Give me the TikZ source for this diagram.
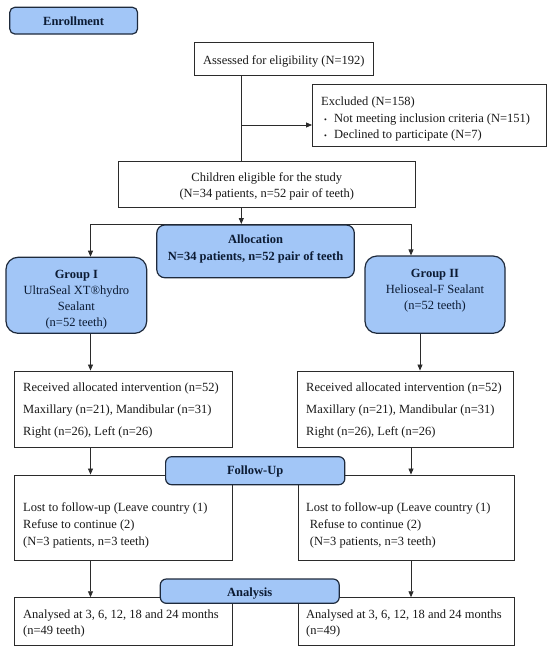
\documentclass[tikz,border=0pt]{standalone}
\usepackage{fontspec}
\setmainfont{Liberation Serif}
\usetikzlibrary{arrows.meta,backgrounds}
\definecolor{bfill}{HTML}{A2C6F7}
\definecolor{bline}{HTML}{1E2A3C}
\definecolor{btext}{HTML}{0C1B33}
\definecolor{gline}{HTML}{2B2B2B}
\begin{document}
\begin{tikzpicture}[x=1pt,y=-1pt,
  font=\fontsize{12.5}{15}\selectfont,
  wbox/.style={draw=gline, line width=0.9pt, fill=white, inner sep=0pt},
  bbox/.style={draw=bline, line width=1.2pt, fill=bfill, inner sep=0pt, rounded corners=#1},
  bbox/.default=6pt,
  txt/.style={inner sep=0pt, anchor=base west, text=black!90},
  ctxt/.style={inner sep=0pt, anchor=base, text=black!90},
  btxt/.style={inner sep=0pt, anchor=base, text=btext, font=\fontsize{12.5}{15}\selectfont\bfseries},
  bul/.style={inner sep=0pt, anchor=base west, text=black!90, font=\fontsize{8}{8}\selectfont},
  arr/.style={-{Triangle[length=6pt,width=5pt]}, line width=0.8pt, draw=gline},
  conn/.style={line width=0.8pt, draw=gline}]
\useasboundingbox (0,0) rectangle (550,651);

% coordinates for connector columns
\coordinate (vx) at (241.3,0);
\coordinate (lx) at (90.5,0);
\coordinate (rx) at (411,0);
\coordinate (rx2) at (420,0);
\coordinate (ex) at (241.3,125);
\coordinate (hy) at (0,224);

% white boxes
\node[wbox, minimum width=179.6pt, minimum height=33.4pt] (assessed) at (283.8,59) {};
\node[wbox, minimum width=233.5pt, minimum height=62pt] (excluded) at (429.25,115.7) {};
\node[wbox, minimum width=296.5pt, minimum height=45.8pt] (children) at (266.75,184.4) {};
\node[wbox, minimum width=217.5pt, minimum height=76.3pt] (recvL) at (123.45,409.15) {};
\node[wbox, minimum width=216.3pt, minimum height=76.3pt] (recvR) at (405.65,409.15) {};
\node[wbox, minimum width=217.5pt, minimum height=85pt] (lostL) at (123.45,517.5) {};
\node[wbox, minimum width=216.5pt, minimum height=85pt] (lostR) at (406.25,517.5) {};
\node[wbox, minimum width=217.5pt, minimum height=47.3pt] (anaL) at (123.45,621.35) {};
\node[wbox, minimum width=216.5pt, minimum height=47.3pt] (anaR) at (406.25,621.35) {};

% blue boxes
\node[bbox=5pt, minimum width=127.7pt, minimum height=26.7pt] (enroll) at (73.65,20.65) {};
\node[bbox=8pt, minimum width=197.5pt, minimum height=52.7pt] (alloc) at (255.55,251.35) {};
\node[bbox=12pt, minimum width=140.7pt, minimum height=76pt] (group1) at (76.35,295.3) {};
\node[bbox=12pt, minimum width=140pt, minimum height=77.3pt] (group2) at (435,294.65) {};
\node[bbox=6pt, minimum width=179.2pt, minimum height=28pt] (follow) at (255.2,470.7) {};
\node[bbox=6pt, minimum width=178.9pt, minimum height=24.3pt] (analysis) at (249.75,591.15) {};

% texts
\node[btxt] (tEnroll) at (73.65,25) {Enrollment};
\node[ctxt] (tAssessed) at (283.8,64) {Assessed for eligibility (N=192)};
\node[txt] (tEx1) at (321,105.7) {Excluded (N=158)};
\node[bul] (bu1) at (324,122) {•};
\node[txt] (tEx2) at (334,122.5) {Not meeting inclusion criteria (N=151)};
\node[bul] (bu2) at (324,138) {•};
\node[txt] (tEx3) at (334,138.5) {Declined to participate (N=7)};
\node[ctxt] (tCh1) at (266.75,181) {Children eligible for the study};
\node[ctxt] (tCh2) at (266.75,197.5) {(N=34 patients, n=52 pair of teeth)};
\node[btxt] (tAl1) at (255.55,243.2) {Allocation};
\node[btxt] (tAl2) at (255.55,260.2) {N=34 patients, n=52 pair of teeth};
\node[btxt] (tG1a) at (76.35,278.2) {Group I};
\node[ctxt, text=btext] (tG1b) at (76.35,294.9) {UltraSeal XT®hydro};
\node[ctxt, text=btext] (tG1c) at (76.35,310.9) {Sealant};
\node[ctxt, text=btext] (tG1d) at (76.35,326.9) {(n=52 teeth)};
\node[btxt] (tG2a) at (435,277.5) {Group II};
\node[ctxt, text=btext] (tG2b) at (435,293.2) {Helioseal-F Sealant};
\node[ctxt, text=btext] (tG2c) at (435,309.2) {(n=52 teeth)};

\node[txt] (tRL1) at (23,391.9) {Received allocated intervention (n=52)};
\node[txt] (tRL2) at (23,413.5) {Maxillary (n=21), Mandibular (n=31)};
\node[txt] (tRL3) at (23,435.2) {Right (n=26), Left (n=26)};
\node[txt] (tRR1) at (306,391.9) {Received allocated intervention (n=52)};
\node[txt] (tRR2) at (306,413.5) {Maxillary (n=21), Mandibular (n=31)};
\node[txt] (tRR3) at (306,435.2) {Right (n=26), Left (n=26)};

\node[btxt] (tFollow) at (255.2,474.5) {Follow-Up};

\node[txt] (tLL1) at (23,511.9) {Lost to follow-up (Leave country (1)};
\node[txt] (tLL2) at (23,528.5) {Refuse to continue (2)};
\node[txt] (tLL3) at (23,545.2) {(N=3 patients, n=3 teeth)};
\node[txt] (tLR1) at (306,511.9) {Lost to follow-up (Leave country (1)};
\node[txt] (tLR2) at (309.7,528.5) {Refuse to continue (2)};
\node[txt] (tLR3) at (309.7,545.2) {(N=3 patients, n=3 teeth)};

\node[btxt] (tAnalysis) at (249.75,596.9) {Analysis};

\node[txt] (tAL1) at (23,618.2) {Analysed at 3, 6, 12, 18 and 24 months};
\node[txt] (tAL2) at (23,634.9) {(n=49 teeth)};
\node[txt] (tAR1) at (306,618.2) {Analysed at 3, 6, 12, 18 and 24 months};
\node[txt] (tAR2) at (306,634.9) {(n=49)};

% connectors
\begin{scope}[on background layer]
\draw[conn] (assessed.south -| vx) -- (children.north -| vx);
\draw[arr] (ex) -- (ex -| excluded.west);
\draw[arr] (children.south -| vx) -- (vx |- hy);
\draw[conn] (lx |- hy) -- (rx |- hy);
\draw[arr] (lx |- hy) -- (lx |- group1.north);
\draw[arr] (rx |- hy) -- (rx |- group2.north);
\draw[arr] (group1.south -| lx) -- (recvL.north -| lx);
\draw[arr] (group2.south -| rx2) -- (recvR.north -| rx2);
\draw[arr] (recvL.south -| lx) -- (lostL.north -| lx);
\draw[arr] (recvR.south -| rx) -- (lostR.north -| rx);
\draw[arr] (lostL.south -| lx) -- (anaL.north -| lx);
\draw[arr] (lostR.south -| rx) -- (anaR.north -| rx);
\end{scope}
\end{tikzpicture}
\end{document}
